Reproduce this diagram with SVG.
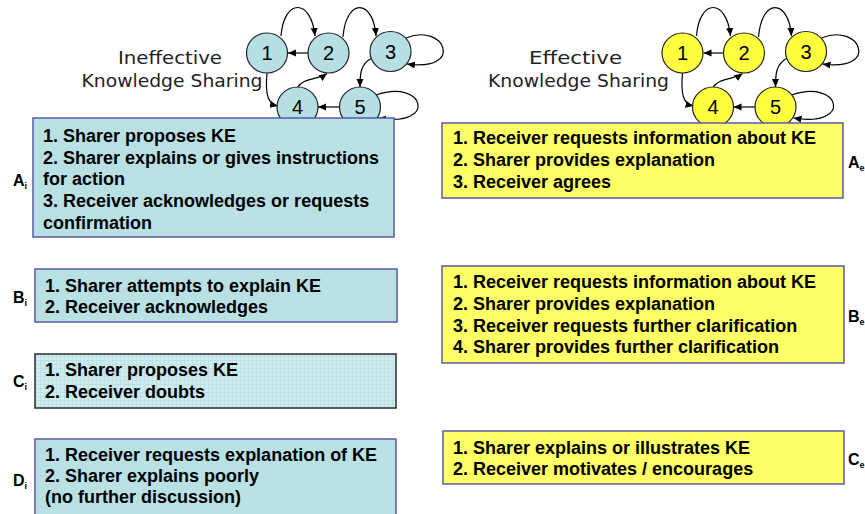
<svg xmlns="http://www.w3.org/2000/svg" width="865" height="514" viewBox="0 0 865 514">
<defs>
<marker id="ah" markerUnits="userSpaceOnUse" markerWidth="9" markerHeight="8" refX="8" refY="3.5" orient="auto">
<path d="M0,0 L8,3.5 L0,7 z" fill="#000"/>
</marker>
<pattern id="grid" width="4" height="4" patternUnits="userSpaceOnUse">
<rect width="4" height="4" fill="#d0ecee"/>
<path d="M0,0.5 H4 M0.5,0 V4" stroke="#bde2e5" stroke-width="1"/>
</pattern>
<style>
.title{font-family:"DejaVu Sans","Liberation Sans",sans-serif;font-size:18.5px;fill:#222;text-anchor:middle}
.num{font-family:"Liberation Sans",Arial,sans-serif;font-size:20px;fill:#000;text-anchor:middle}
.ci{fill:#b5dfe2;stroke:#222;stroke-width:1.2}
.ce{fill:#ffff40;stroke:#222;stroke-width:1.2}
.bi{fill:#b9e1e4;stroke:#5a5aa8;stroke-width:1.5}
.be{fill:#ffff66;stroke:#5a5aa8;stroke-width:1.5}
.bt{font-family:"Liberation Sans",Arial,sans-serif;font-weight:bold;font-size:18px;fill:#000}
.lb{font-family:"Liberation Sans",Arial,sans-serif;font-weight:bold;font-size:16px;fill:#000}
.sub{font-size:9px}
.edge{fill:none;stroke:#000;stroke-width:1.2;marker-end:url(#ah)}
</style>
</defs>
<rect width="865" height="514" fill="#fff"/>

<text class="title" x="170" y="64" textLength="104" lengthAdjust="spacingAndGlyphs">Ineffective</text>
<text class="title" x="172" y="87" textLength="181" lengthAdjust="spacingAndGlyphs">Knowledge Sharing</text>
<text class="title" x="575.5" y="64" textLength="93" lengthAdjust="spacingAndGlyphs">Effective</text>
<text class="title" x="578.5" y="87" textLength="181" lengthAdjust="spacingAndGlyphs">Knowledge Sharing</text>

<g id="connectors">
<g id="conn-left">
<path class="edge" d="M281,36 C284,-2 311,-2 315,36"/>
<path class="edge" d="M343,37 C346,-2 373,-2 376,36"/>
<path class="edge" d="M308,53 L288,53"/>
<path class="edge" d="M406,38 C445,22 465,72 407,64"/>
<path class="edge" d="M372,58 C360,64 360,75 360,87"/>
<path class="edge" d="M267,73 C265,95 268,104 278,106"/>
<path class="edge" d="M298,87 C303,78 318,80 327,73.5"/>
<path class="edge" d="M340,107 L318,107"/>
<path class="edge" d="M376,95 C425,78 438,128 378,118"/>
</g>
<g id="conn-right" transform="translate(415.5,0)">
<path class="edge" d="M281,36 C284,-2 311,-2 315,36"/>
<path class="edge" d="M343,37 C346,-2 373,-2 376,36"/>
<path class="edge" d="M308,53 L288,53"/>
<path class="edge" d="M406,38 C445,22 465,72 407,64"/>
<path class="edge" d="M372,58 C360,64 360,75 360,87"/>
<path class="edge" d="M267,73 C265,95 268,104 278,106"/>
<path class="edge" d="M298,87 C303,78 318,80 327,73.5"/>
<path class="edge" d="M340,107 L318,107"/>
<path class="edge" d="M376,95 C425,78 438,128 378,118"/>
</g>
</g>

<g id="li-1"><ellipse class="ci" cx="267" cy="53" rx="20.5" ry="20"/><text class="num" x="267" y="60">1</text></g>
<g id="li-2"><ellipse class="ci" cx="328.5" cy="53" rx="20.5" ry="20"/><text class="num" x="328.5" y="60">2</text></g>
<g id="li-3"><ellipse class="ci" cx="390.5" cy="51.5" rx="20.5" ry="20"/><text class="num" x="390.5" y="58.5">3</text></g>
<g id="li-4"><ellipse class="ci" cx="297.5" cy="107" rx="20.5" ry="20"/><text class="num" x="297.5" y="114">4</text></g>
<g id="li-5"><ellipse class="ci" cx="360" cy="107" rx="20.5" ry="20"/><text class="num" x="360" y="114">5</text></g>

<g id="le-1"><ellipse class="ce" cx="682.5" cy="53" rx="20.5" ry="20"/><text class="num" x="682.5" y="60">1</text></g>
<g id="le-2"><ellipse class="ce" cx="744" cy="53" rx="20.5" ry="20"/><text class="num" x="744" y="60">2</text></g>
<g id="le-3"><ellipse class="ce" cx="806" cy="51.5" rx="20.5" ry="20"/><text class="num" x="806" y="58.5">3</text></g>
<g id="le-4"><ellipse class="ce" cx="713" cy="107" rx="20.5" ry="20"/><text class="num" x="713" y="114">4</text></g>
<g id="le-5"><ellipse class="ce" cx="775.5" cy="107" rx="20.5" ry="20"/><text class="num" x="775.5" y="114">5</text></g>

<g id="box-Ai">
<rect class="bi" x="33" y="118" width="361" height="119"/>
<text class="bt" x="43" y="142">1. Sharer proposes KE</text>
<text class="bt" x="43" y="164">2. Sharer explains or gives instructions</text>
<text class="bt" x="43" y="185">for action</text>
<text class="bt" x="43" y="207">3. Receiver acknowledges or requests</text>
<text class="bt" x="43" y="229">confirmation</text>
<text class="lb" x="13" y="186">A<tspan class="sub" dy="3">i</tspan></text>
</g>

<g id="box-Bi">
<rect class="bi" x="35" y="269" width="362" height="53"/>
<text class="bt" x="45" y="291.5">1. Sharer attempts to explain KE</text>
<text class="bt" x="45" y="312.5">2. Receiver acknowledges</text>
<text class="lb" x="13" y="303">B<tspan class="sub" dy="3">i</tspan></text>
</g>

<g id="box-Ci">
<rect x="35" y="354" width="361" height="54" fill="url(#grid)" stroke="#2a2a2a" stroke-width="1.5"/>
<text class="bt" x="45" y="376">1. Sharer proposes KE</text>
<text class="bt" x="45" y="398">2. Receiver doubts</text>
<text class="lb" x="13" y="387">C<tspan class="sub" dy="3">i</tspan></text>
</g>

<g id="box-Di">
<rect class="bi" x="35" y="439" width="361" height="90"/>
<text class="bt" x="45" y="461">1. Receiver requests explanation of KE</text>
<text class="bt" x="45" y="482">2. Sharer explains poorly</text>
<text class="bt" x="45" y="503">(no further discussion)</text>
<text class="lb" x="13" y="486">D<tspan class="sub" dy="3">i</tspan></text>
</g>

<g id="box-Ae">
<rect class="be" x="442" y="123" width="401" height="75"/>
<text class="bt" x="453" y="144">1. Receiver requests information about KE</text>
<text class="bt" x="453" y="166">2. Sharer provides explanation</text>
<text class="bt" x="453" y="188">3. Receiver agrees</text>
<text class="lb" x="848" y="168">A<tspan class="sub" dy="3">e</tspan></text>
</g>

<g id="box-Be">
<rect class="be" x="442" y="266" width="402" height="97"/>
<text class="bt" x="453" y="288">1. Receiver requests information about KE</text>
<text class="bt" x="453" y="310">2. Sharer provides explanation</text>
<text class="bt" x="453" y="332">3. Receiver requests further clarification</text>
<text class="bt" x="453" y="353">4. Sharer provides further clarification</text>
<text class="lb" x="848" y="322">B<tspan class="sub" dy="3">e</tspan></text>
</g>

<g id="box-Ce">
<rect class="be" x="443" y="431" width="401" height="53"/>
<text class="bt" x="453" y="454">1. Sharer explains or illustrates KE</text>
<text class="bt" x="453" y="475">2. Receiver motivates / encourages</text>
<text class="lb" x="848" y="465">C<tspan class="sub" dy="3">e</tspan></text>
</g>
</svg>
